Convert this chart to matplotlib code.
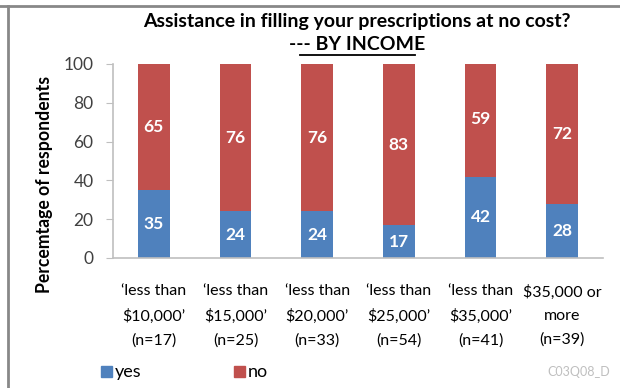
import matplotlib
matplotlib.use("Agg")
import matplotlib.pyplot as plt
from matplotlib.lines import Line2D
from matplotlib.patches import Rectangle

plt.rcParams['font.family'] = ['Lato', 'DejaVu Sans']

categories = ["\u2018less than\n$10,000\u2019\n(n=17)",
              "\u2018less than\n$15,000\u2019\n(n=25)",
              "\u2018less than\n$20,000\u2019\n(n=33)",
              "\u2018less than\n$25,000\u2019\n(n=54)",
              "\u2018less than\n$35,000\u2019\n(n=41)",
              "$35,000 or\nmore\n(n=39)"]
yes_vals = [35, 24, 24, 17, 42, 28]
no_vals = [65, 76, 76, 83, 59, 72]
yticks = [0, 20, 40, 60, 80, 100]

BLUE = '#4F81BD'
RED = '#C0504D'
GRAY = '#BFBFBF'

fig = plt.figure(figsize=(6.2, 3.88), dpi=100)
ax = fig.add_axes([113/620, 1-258/388, 490/620, 194/388])

x = list(range(len(categories)))
w = 0.39
ax.bar(x, yes_vals, w, color=BLUE, label='yes')
ax.bar(x, no_vals, w, bottom=yes_vals, color=RED, label='no')

for i in x:
    ax.text(i, yes_vals[i]/2, str(yes_vals[i]), ha='center', va='center',
            color='white', fontsize=12.5, fontweight='bold')
    ax.text(i, yes_vals[i] + no_vals[i]/2, str(no_vals[i]), ha='center', va='center',
            color='white', fontsize=12.5, fontweight='bold')

ax.set_xlim(-0.5, len(categories)-0.5)
ax.set_ylim(0, 100)
ax.set_yticks(yticks)
ax.tick_params(axis='y', direction='out', length=5, color=GRAY, labelsize=12.5,
               labelcolor='#404040', pad=9)
ax.set_xticks(x)
ax.set_xticklabels(categories, fontsize=11.5, linespacing=1.85)
ax.tick_params(axis='x', length=0, pad=19)
for s in ['top', 'right']:
    ax.spines[s].set_visible(False)
for s in ['left', 'bottom']:
    ax.spines[s].set_color(GRAY)
    ax.spines[s].set_linewidth(1.2)

fig.text(45/620, 1-184/388, 'Percemtage of respondents', rotation=90,
         ha='center', va='center', fontsize=12.7, fontweight='bold')

fig.text(357/620, 1-21/388, 'Assistance in filling your prescriptions at no cost?',
         ha='center', va='center', fontsize=14, fontweight='bold')
fig.text(357/620, 1-45/388, '--- BY INCOME', ha='center', va='center',
         fontsize=14, fontweight='bold')
fig.add_artist(Line2D([300/620, 415/620], [1-55/388, 1-55/388],
                      transform=fig.transFigure, color='black', lw=1.3))

# legend
fig.add_artist(Rectangle((101/620, 1-377/388), 11/620, 11/388,
                         transform=fig.transFigure, color=BLUE))
fig.text(115/620, 1-372/388, 'yes', ha='left', va='center', fontsize=13)
fig.add_artist(Rectangle((234/620, 1-377/388), 11/620, 11/388,
                         transform=fig.transFigure, color=RED))
fig.text(248/620, 1-372/388, 'no', ha='left', va='center', fontsize=13)
fig.text(610/620, 1-372/388, 'C03Q08_D', ha='right', va='center', fontsize=9,
         color='#BFBFBF')

# frame
fig.add_artist(Line2D([0, 1], [1-6/388, 1-6/388], transform=fig.transFigure,
                      color='#888888', lw=2))
fig.add_artist(Line2D([8/620, 8/620], [0, 1-6/388], transform=fig.transFigure,
                      color='#888888', lw=2))

fig.savefig('out.png', dpi=100)
